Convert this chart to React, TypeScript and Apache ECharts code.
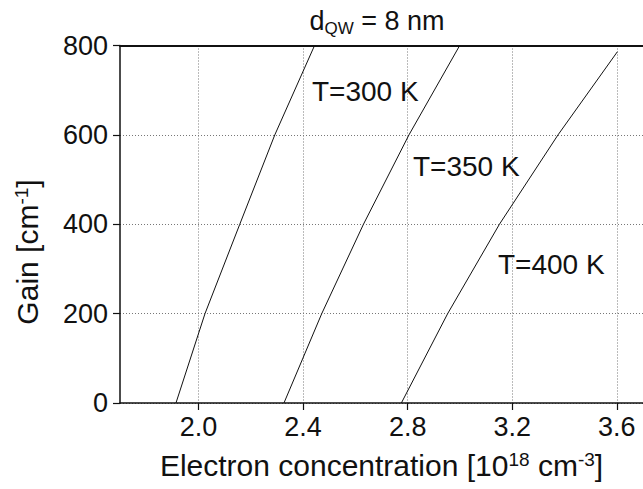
import React, { useEffect, useRef } from "react";
import * as echarts from "echarts";

// ---- data ----
const xTickValues = [2.0, 2.4, 2.8, 3.2, 3.6];
const xMin = 1.7;
const xMax = 3.7;
const yMin = 0;
const yMax = 800;
const yInterval = 200;

const t300N = [1.914, 2.025, 2.158, 2.292, 2.444];
const t300G = [0, 200, 400, 600, 800];

const t350N = [2.327, 2.4715, 2.631, 2.805, 2.999];
const t350G = [0, 200, 400, 600, 800];

const t400N = [2.776, 2.953, 3.151, 3.375, 3.602];
const t400G = [0, 200, 400, 600, 786];

const seriesNames = ["T=300 K", "T=350 K", "T=400 K"];

const FONT = "'Liberation Sans', Arial, Helvetica, sans-serif";

function pairs(xs: number[], ys: number[]) {
  return xs.map((x, i) => [x, ys[i]]);
}

export default function App() {
  const ref = useRef<HTMLDivElement>(null);

  useEffect(() => {
    if (!ref.current) return;
    const chart = echarts.init(ref.current, undefined, { renderer: "svg" });

    const lineStyle = { color: "#111", width: 1 };
    const mk = (name: string, xs: number[], ys: number[]) => ({
      name,
      type: "line",
      data: pairs(xs, ys),
      showSymbol: false,
      symbol: "none",
      smooth: false,
      lineStyle,
      xAxisIndex: 0,
      yAxisIndex: 0,
      z: 5,
    });

    const option: any = {
      animation: false,
      backgroundColor: "#ffffff",
      textStyle: { fontFamily: FONT },
      grid: { left: 120, top: 45.5, width: 527, height: 357.5, containLabel: false },
      xAxis: [
        {
          type: "value",
          min: xMin,
          max: xMax,
          position: "bottom",
          name: "Electron concentration [10{sup|18} cm{sup|-3}]",
          nameLocation: "middle",
          nameGap: 47,
          nameTextStyle: {
            fontFamily: FONT,
            fontSize: 30,
            color: "#111",
            lineHeight: 30,
            rich: {
              sup: { fontSize: 19, lineHeight: 20, verticalAlign: "top", fontFamily: FONT, color: "#111" },
            },
          },
          axisLine: { show: true, onZero: false, lineStyle: { color: "#111", width: 1.5 } },
          axisTick: {
            show: true,
            inside: false,
            length: 7,
            customValues: xTickValues,
            lineStyle: { color: "#111", width: 1.2 },
          },
          axisLabel: {
            show: true,
            customValues: xTickValues,
            margin: 10,
            fontSize: 27,
            fontFamily: FONT,
            color: "#111",
            formatter: (v: number) => v.toFixed(1),
          },
          splitLine: {
            show: true,
            lineStyle: { color: "#777", width: 1, type: [1, 2] },
          },
        },
        {
          type: "value",
          min: xMin,
          max: xMax,
          position: "top",
          axisLine: { show: true, onZero: false, lineStyle: { color: "#111", width: 2 } },
          axisTick: { show: false },
          axisLabel: { show: false },
          splitLine: { show: false },
        },
      ],
      yAxis: {
        type: "value",
        min: yMin,
        max: yMax,
        interval: yInterval,
        axisLine: { show: true, onZero: false, lineStyle: { color: "#111", width: 1.5 } },
        axisTick: { show: true, inside: false, length: 7, lineStyle: { color: "#111", width: 1.2 } },
        axisLabel: { margin: 12, fontSize: 27, fontFamily: FONT, color: "#111" },
        splitLine: { show: true, lineStyle: { color: "#777", width: 1, type: [1, 2] } },
      },
      graphic: [
        {
          type: "text",
          x: 377,
          y: 21,
          style: {
            text: "{a|d}{s|QW}{a| = 8 nm}",
            align: "center",
            verticalAlign: "middle",
            fill: "#111",
            font: `27px ${FONT}`,
            rich: {
              a: { fontSize: 27, lineHeight: 32, fontFamily: FONT, fill: "#111", verticalAlign: "middle" },
              s: { fontSize: 17, lineHeight: 19, fontFamily: FONT, fill: "#111", verticalAlign: "bottom" },
            },
          },
        },
        {
          type: "text",
          x: 27,
          y: 252,
          rotation: Math.PI / 2,
          style: {
            text: "{a|Gain [cm}{s|-1}{a|]}",
            align: "center",
            verticalAlign: "middle",
            fill: "#111",
            rich: {
              a: { fontSize: 30, lineHeight: 30, fontFamily: FONT, fill: "#111", verticalAlign: "middle" },
              s: { fontSize: 19, lineHeight: 20, fontFamily: FONT, fill: "#111", verticalAlign: "top" },
            },
          },
        },
        {
          type: "text",
          x: 312,
          y: 91,
          style: { text: seriesNames[0], fontSize: 28, fontFamily: FONT, fill: "#111", align: "left", verticalAlign: "middle" },
          z: 10,
        },
        {
          type: "text",
          x: 413,
          y: 166,
          style: { text: seriesNames[1], fontSize: 28, fontFamily: FONT, fill: "#111", align: "left", verticalAlign: "middle" },
          z: 10,
        },
        {
          type: "text",
          x: 498,
          y: 264,
          style: { text: seriesNames[2], fontSize: 28, fontFamily: FONT, fill: "#111", align: "left", verticalAlign: "middle" },
          z: 10,
        },
      ],
      series: [mk(seriesNames[0], t300N, t300G), mk(seriesNames[1], t350N, t350G), mk(seriesNames[2], t400N, t400G)],
    };

    chart.setOption(option);
    return () => chart.dispose();
  }, []);

  return (
    <div
      ref={ref}
      style={{ position: "absolute", left: 0, top: 0, width: 643, height: 489, background: "#fff" }}
    />
  );
}
